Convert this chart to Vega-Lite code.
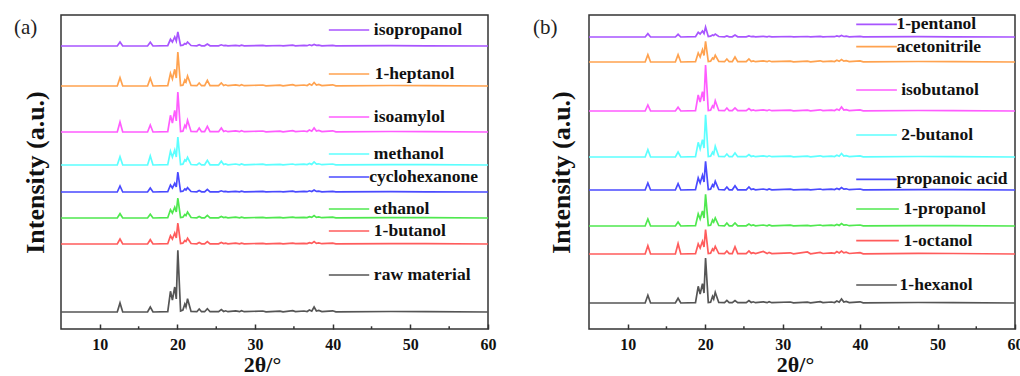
{
"$schema":"https://vega.github.io/schema/vega-lite/v6.json",
"padding":{"left":13,"top":14,"right":0,"bottom":0},
"spacing":35,
"config":{"view":{"stroke":"#333333","strokeWidth":1.5},
"axis":{"grid":false,"domain":false,"labelFont":"Liberation Serif","labelFontWeight":"bold","labelFontSize":16,"labelColor":"#111111","titleFont":"Liberation Serif","titleFontWeight":"bold","titleColor":"#111111","tickColor":"#333333","tickWidth":1.5}},
"datasets":{
"a":[
{"x":5,"raw material":17,"1-butanol":85,"ethanol":111,"cyclohexanone":137,"methanol":164,"isoamylol":197,"1-heptanol":243,"isopropanol":283},
{"x":12.25,"raw material":17,"1-butanol":85,"ethanol":111,"cyclohexanone":137,"methanol":164,"isoamylol":197,"1-heptanol":243,"isopropanol":283},
{"x":12.6,"raw material":26,"1-butanol":90,"ethanol":115.3,"cyclohexanone":143,"methanol":172.3,"isoamylol":207,"1-heptanol":251.3,"isopropanol":287},
{"x":12.95,"raw material":17,"1-butanol":85,"ethanol":111,"cyclohexanone":137,"methanol":164,"isoamylol":197,"1-heptanol":243,"isopropanol":283},
{"x":16.15,"raw material":17,"1-butanol":85,"ethanol":111,"cyclohexanone":137,"methanol":164,"isoamylol":197,"1-heptanol":243,"isopropanol":283},
{"x":16.5,"raw material":22,"1-butanol":89.3,"ethanol":114.7,"cyclohexanone":141,"methanol":173,"isoamylol":204,"1-heptanol":250.7,"isopropanol":286.7},
{"x":16.85,"raw material":17,"1-butanol":85,"ethanol":111,"cyclohexanone":137,"methanol":164,"isoamylol":197,"1-heptanol":243,"isopropanol":283},
{"x":18.75,"raw material":17.3,"1-butanol":85.3,"ethanol":111.3,"cyclohexanone":137.3,"methanol":164.3,"isoamylol":197.3,"1-heptanol":243.3,"isopropanol":283.3},
{"x":19.1,"raw material":37.7,"1-butanol":93.3,"ethanol":119.3,"cyclohexanone":144,"methanol":177.7,"isoamylol":213.7,"1-heptanol":255.7,"isopropanol":289.7},
{"x":19.35,"raw material":29,"1-butanol":90,"ethanol":116,"cyclohexanone":141,"methanol":172,"isoamylol":206,"1-heptanol":250,"isopropanol":287},
{"x":19.65,"raw material":42,"1-butanol":96,"ethanol":121.7,"cyclohexanone":145.7,"methanol":179,"isoamylol":218.7,"1-heptanol":259.7,"isopropanol":292},
{"x":19.85,"raw material":30,"1-butanol":91,"ethanol":117,"cyclohexanone":142,"methanol":172,"isoamylol":208,"1-heptanol":251,"isopropanol":288},
{"x":20.05,"raw material":78.7,"1-butanol":106,"ethanol":131,"cyclohexanone":157,"methanol":192,"isoamylol":237,"1-heptanol":277,"isopropanol":297},
{"x":20.4,"raw material":18,"1-butanol":85.5,"ethanol":111.5,"cyclohexanone":137.5,"methanol":164.5,"isoamylol":197.5,"1-heptanol":243.5,"isopropanol":283.5},
{"x":20.7,"raw material":19,"1-butanol":85.8,"ethanol":111.8,"cyclohexanone":137.8,"methanol":164.8,"isoamylol":197.8,"1-heptanol":243.8,"isopropanol":283.8},
{"x":20.95,"raw material":25,"1-butanol":88.5,"ethanol":114.5,"cyclohexanone":140,"methanol":169,"isoamylol":203.7,"1-heptanol":249,"isopropanol":285.5},
{"x":21.1,"raw material":22,"1-butanol":87.5,"ethanol":113.5,"cyclohexanone":139,"methanol":168,"isoamylol":201.5,"1-heptanol":247,"isopropanol":284.8},
{"x":21.3,"raw material":30.3,"1-butanol":90.7,"ethanol":117,"cyclohexanone":141.3,"methanol":171.7,"isoamylol":208.7,"1-heptanol":253,"isopropanol":287},
{"x":21.75,"raw material":17.5,"1-butanol":85.5,"ethanol":111.5,"cyclohexanone":137.5,"methanol":164.5,"isoamylol":197.5,"1-heptanol":243.5,"isopropanol":283.5},
{"x":22.5,"raw material":17.3,"1-butanol":85.2,"ethanol":111.2,"cyclohexanone":137.2,"methanol":164.2,"isoamylol":197.3,"1-heptanol":243.3,"isopropanol":283.2},
{"x":22.8,"raw material":20,"1-butanol":86.5,"ethanol":112.5,"cyclohexanone":138.5,"methanol":166,"isoamylol":201,"1-heptanol":246,"isopropanol":284.2},
{"x":23.1,"raw material":17.3,"1-butanol":85.2,"ethanol":111.2,"cyclohexanone":137.2,"methanol":164.2,"isoamylol":197.3,"1-heptanol":243.3,"isopropanol":283.2},
{"x":23.5,"raw material":17.3,"1-butanol":85.2,"ethanol":111.2,"cyclohexanone":137.2,"methanol":164.2,"isoamylol":197.3,"1-heptanol":243.3,"isopropanol":283.2},
{"x":23.85,"raw material":20.3,"1-butanol":87.5,"ethanol":113.7,"cyclohexanone":139.7,"methanol":168.7,"isoamylol":202.7,"1-heptanol":248.7,"isopropanol":285},
{"x":24.2,"raw material":17.3,"1-butanol":85.2,"ethanol":111.2,"cyclohexanone":137.2,"methanol":164.2,"isoamylol":197.3,"1-heptanol":243.3,"isopropanol":283.2},
{"x":25.3,"raw material":17.3,"1-butanol":85.2,"ethanol":111.2,"cyclohexanone":137.2,"methanol":164.2,"isoamylol":197.3,"1-heptanol":243.3,"isopropanol":283.2},
{"x":25.65,"raw material":19.5,"1-butanol":86.5,"ethanol":112.5,"cyclohexanone":138.2,"methanol":167.7,"isoamylol":201,"1-heptanol":246,"isopropanol":284.2},
{"x":25.95,"raw material":17.5,"1-butanol":85.4,"ethanol":111.4,"cyclohexanone":137.3,"methanol":164.4,"isoamylol":197.5,"1-heptanol":243.5,"isopropanol":283.3},
{"x":26.2,"raw material":18.2,"1-butanol":85.8,"ethanol":111.8,"cyclohexanone":137.7,"methanol":165,"isoamylol":198.2,"1-heptanol":244.2,"isopropanol":283.7},
{"x":26.5,"raw material":17.3,"1-butanol":85.2,"ethanol":111.2,"cyclohexanone":137.2,"methanol":164.2,"isoamylol":197.3,"1-heptanol":243.3,"isopropanol":283.2},
{"x":27.5,"raw material":18.2,"1-butanol":85.8,"ethanol":111.8,"cyclohexanone":137.7,"methanol":165,"isoamylol":198.2,"1-heptanol":244.2,"isopropanol":283.7},
{"x":28.0,"raw material":17.3,"1-butanol":85.2,"ethanol":111.2,"cyclohexanone":137.2,"methanol":164.2,"isoamylol":197.3,"1-heptanol":243.3,"isopropanol":283.2},
{"x":28.25,"raw material":18.3,"1-butanol":85.9,"ethanol":111.9,"cyclohexanone":137.8,"methanol":165,"isoamylol":198.3,"1-heptanol":244.3,"isopropanol":283.8},
{"x":28.6,"raw material":17.3,"1-butanol":85.2,"ethanol":111.2,"cyclohexanone":137.2,"methanol":164.2,"isoamylol":197.3,"1-heptanol":243.3,"isopropanol":283.2},
{"x":31.0,"raw material":18,"1-butanol":85.7,"ethanol":111.7,"cyclohexanone":137.6,"methanol":164.8,"isoamylol":198,"1-heptanol":244,"isopropanol":283.6},
{"x":31.4,"raw material":17.2,"1-butanol":85.1,"ethanol":111.1,"cyclohexanone":137.1,"methanol":164.2,"isoamylol":197.2,"1-heptanol":243.2,"isopropanol":283.1},
{"x":33.2,"raw material":17.9,"1-butanol":85.6,"ethanol":111.6,"cyclohexanone":137.5,"methanol":164.7,"isoamylol":197.9,"1-heptanol":243.9,"isopropanol":283.5},
{"x":33.6,"raw material":17.2,"1-butanol":85.1,"ethanol":111.1,"cyclohexanone":137.1,"methanol":164.2,"isoamylol":197.2,"1-heptanol":243.2,"isopropanol":283.1},
{"x":34.85,"raw material":18.3,"1-butanol":85.9,"ethanol":111.9,"cyclohexanone":137.8,"methanol":165,"isoamylol":198.3,"1-heptanol":244.3,"isopropanol":283.8},
{"x":35.2,"raw material":17.4,"1-butanol":85.3,"ethanol":111.3,"cyclohexanone":137.2,"methanol":164.3,"isoamylol":197.4,"1-heptanol":243.4,"isopropanol":283.2},
{"x":36.3,"raw material":18,"1-butanol":85.7,"ethanol":111.7,"cyclohexanone":137.6,"methanol":164.8,"isoamylol":198,"1-heptanol":244,"isopropanol":283.6},
{"x":36.7,"raw material":17.5,"1-butanol":85.4,"ethanol":111.4,"cyclohexanone":137.3,"methanol":164.4,"isoamylol":197.5,"1-heptanol":243.5,"isopropanol":283.3},
{"x":37.0,"raw material":19,"1-butanol":86.4,"ethanol":112.4,"cyclohexanone":138.2,"methanol":165.6,"isoamylol":199,"1-heptanol":245,"isopropanol":284.2},
{"x":37.3,"raw material":17.8,"1-butanol":85.6,"ethanol":111.6,"cyclohexanone":137.5,"methanol":164.6,"isoamylol":197.8,"1-heptanol":243.8,"isopropanol":283.5},
{"x":37.6,"raw material":22,"1-butanol":87.5,"ethanol":113.5,"cyclohexanone":139,"methanol":167,"isoamylol":201,"1-heptanol":246.5,"isopropanol":284.5},
{"x":37.9,"raw material":18,"1-butanol":85.7,"ethanol":111.7,"cyclohexanone":137.6,"methanol":164.8,"isoamylol":198,"1-heptanol":244,"isopropanol":283.6},
{"x":38.2,"raw material":18.5,"1-butanol":86.1,"ethanol":112.1,"cyclohexanone":137.9,"methanol":165.2,"isoamylol":198.5,"1-heptanol":244.5,"isopropanol":283.9},
{"x":38.6,"raw material":17.4,"1-butanol":85.3,"ethanol":111.3,"cyclohexanone":137.2,"methanol":164.3,"isoamylol":197.4,"1-heptanol":243.4,"isopropanol":283.2},
{"x":40.0,"raw material":18.2,"1-butanol":85.8,"ethanol":111.8,"cyclohexanone":137.7,"methanol":165,"isoamylol":198.2,"1-heptanol":244.2,"isopropanol":283.7},
{"x":40.4,"raw material":17.2,"1-butanol":85.1,"ethanol":111.1,"cyclohexanone":137.1,"methanol":164.2,"isoamylol":197.2,"1-heptanol":243.2,"isopropanol":283.1},
{"x":47.5,"raw material":17.5,"1-butanol":85.4,"ethanol":111.4,"cyclohexanone":137.3,"methanol":164.4,"isoamylol":197.5,"1-heptanol":243.5,"isopropanol":283.3},
{"x":52,"raw material":17.4,"1-butanol":85.3,"ethanol":111.3,"cyclohexanone":137.2,"methanol":164.3,"isoamylol":197.4,"1-heptanol":243.4,"isopropanol":283.2},
{"x":60,"raw material":17,"1-butanol":85,"ethanol":111,"cyclohexanone":137,"methanol":164,"isoamylol":197,"1-heptanol":243,"isopropanol":283}
],
"b":[
{"x":5,"1-hexanol":26,"1-octanol":75,"1-propanol":103,"propanoic acid":139,"2-butanol":172,"isobutanol":218,"acetonitrile":267,"1-pentanol":292},
{"x":12.25,"1-hexanol":26,"1-octanol":75,"1-propanol":103,"propanoic acid":139,"2-butanol":172,"isobutanol":218,"acetonitrile":267,"1-pentanol":292},
{"x":12.6,"1-hexanol":33.7,"1-octanol":83.3,"1-propanol":110,"propanoic acid":146,"2-butanol":179.3,"isobutanol":224,"acetonitrile":274.3,"1-pentanol":295.3},
{"x":12.95,"1-hexanol":26,"1-octanol":75,"1-propanol":103,"propanoic acid":139,"2-butanol":172,"isobutanol":218,"acetonitrile":267,"1-pentanol":292},
{"x":16.15,"1-hexanol":26,"1-octanol":75,"1-propanol":103,"propanoic acid":139,"2-butanol":172,"isobutanol":218,"acetonitrile":267,"1-pentanol":292},
{"x":16.5,"1-hexanol":30.7,"1-octanol":85.3,"1-propanol":107,"propanoic acid":145.3,"2-butanol":177,"isobutanol":221.7,"acetonitrile":274.3,"1-pentanol":294.7},
{"x":16.85,"1-hexanol":26,"1-octanol":75,"1-propanol":103,"propanoic acid":139,"2-butanol":172,"isobutanol":218,"acetonitrile":267,"1-pentanol":292},
{"x":18.75,"1-hexanol":26.3,"1-octanol":75.3,"1-propanol":103.3,"propanoic acid":139.3,"2-butanol":172.3,"isobutanol":218.3,"acetonitrile":267.3,"1-pentanol":292.3},
{"x":19.1,"1-hexanol":42.7,"1-octanol":85,"1-propanol":115,"propanoic acid":151,"2-butanol":186.7,"isobutanol":234,"acetonitrile":276,"1-pentanol":296.7},
{"x":19.35,"1-hexanol":35,"1-octanol":81,"1-propanol":110,"propanoic acid":146,"2-butanol":180,"isobutanol":227,"acetonitrile":272,"1-pentanol":295},
{"x":19.65,"1-hexanol":45.3,"1-octanol":87.7,"1-propanol":118,"propanoic acid":153.7,"2-butanol":189.3,"isobutanol":237.3,"acetonitrile":279.3,"1-pentanol":298},
{"x":19.85,"1-hexanol":36,"1-octanol":82,"1-propanol":111,"propanoic acid":147,"2-butanol":181,"isobutanol":228,"acetonitrile":273.5,"1-pentanol":295.5},
{"x":20.05,"1-hexanol":71,"1-octanol":99.3,"1-propanol":134.7,"propanoic acid":167.7,"2-butanol":214.3,"isobutanol":264,"acetonitrile":287.7,"1-pentanol":302},
{"x":20.4,"1-hexanol":26.5,"1-octanol":75.5,"1-propanol":103.5,"propanoic acid":139.5,"2-butanol":172.5,"isobutanol":218.5,"acetonitrile":267.5,"1-pentanol":292.5},
{"x":20.7,"1-hexanol":26.8,"1-octanol":75.8,"1-propanol":103.8,"propanoic acid":139.8,"2-butanol":172.8,"isobutanol":218.8,"acetonitrile":267.8,"1-pentanol":292.8},
{"x":20.95,"1-hexanol":32.7,"1-octanol":80,"1-propanol":109,"propanoic acid":144.3,"2-butanol":176.7,"isobutanol":223,"acetonitrile":271,"1-pentanol":294},
{"x":21.1,"1-hexanol":30,"1-octanol":78.5,"1-propanol":107,"propanoic acid":142.5,"2-butanol":175,"isobutanol":221.5,"acetonitrile":270,"1-pentanol":293.5},
{"x":21.3,"1-hexanol":36.7,"1-octanol":82.7,"1-propanol":111,"propanoic acid":147.7,"2-butanol":182.7,"isobutanol":228.3,"acetonitrile":273.7,"1-pentanol":295},
{"x":21.75,"1-hexanol":26.5,"1-octanol":75.5,"1-propanol":103.5,"propanoic acid":139.5,"2-butanol":172.5,"isobutanol":218.5,"acetonitrile":267.5,"1-pentanol":292.5},
{"x":22.5,"1-hexanol":26.3,"1-octanol":75.4,"1-propanol":103.2,"propanoic acid":139.2,"2-butanol":172.3,"isobutanol":218.3,"acetonitrile":267.3,"1-pentanol":292.2},
{"x":22.8,"1-hexanol":28.5,"1-octanol":78,"1-propanol":106,"propanoic acid":142,"2-butanol":175,"isobutanol":221,"acetonitrile":270,"1-pentanol":293},
{"x":23.1,"1-hexanol":26.3,"1-octanol":75.4,"1-propanol":103.2,"propanoic acid":139.2,"2-butanol":172.3,"isobutanol":218.3,"acetonitrile":267.3,"1-pentanol":292.2},
{"x":23.5,"1-hexanol":26.3,"1-octanol":75.4,"1-propanol":103.2,"propanoic acid":139.2,"2-butanol":172.3,"isobutanol":218.3,"acetonitrile":267.3,"1-pentanol":292.2},
{"x":23.85,"1-hexanol":28.5,"1-octanol":82.3,"1-propanol":106,"propanoic acid":143.3,"2-butanol":176,"isobutanol":221,"acetonitrile":272,"1-pentanol":294},
{"x":24.2,"1-hexanol":26.3,"1-octanol":75.4,"1-propanol":103.2,"propanoic acid":139.2,"2-butanol":172.3,"isobutanol":218.3,"acetonitrile":267.3,"1-pentanol":292.2},
{"x":25.3,"1-hexanol":26.3,"1-octanol":75.4,"1-propanol":103.2,"propanoic acid":139.2,"2-butanol":172.3,"isobutanol":218.3,"acetonitrile":267.3,"1-pentanol":292.2},
{"x":25.65,"1-hexanol":28.5,"1-octanol":78,"1-propanol":105,"propanoic acid":142,"2-butanol":174.5,"isobutanol":220.5,"acetonitrile":270,"1-pentanol":293},
{"x":25.95,"1-hexanol":26.5,"1-octanol":75.6,"1-propanol":103.4,"propanoic acid":139.4,"2-butanol":172.5,"isobutanol":218.5,"acetonitrile":267.5,"1-pentanol":292.3},
{"x":26.2,"1-hexanol":27.2,"1-octanol":76.4,"1-propanol":104,"propanoic acid":140,"2-butanol":173.1,"isobutanol":219.1,"acetonitrile":268.1,"1-pentanol":292.6},
{"x":26.5,"1-hexanol":26.3,"1-octanol":75.4,"1-propanol":103.2,"propanoic acid":139.2,"2-butanol":172.3,"isobutanol":218.3,"acetonitrile":267.3,"1-pentanol":292.2},
{"x":27.5,"1-hexanol":27.2,"1-octanol":77.5,"1-propanol":104,"propanoic acid":140,"2-butanol":173.1,"isobutanol":219.1,"acetonitrile":268.1,"1-pentanol":292.6},
{"x":28.0,"1-hexanol":26.3,"1-octanol":75.4,"1-propanol":103.2,"propanoic acid":139.2,"2-butanol":172.3,"isobutanol":218.3,"acetonitrile":267.3,"1-pentanol":292.2},
{"x":28.25,"1-hexanol":27.3,"1-octanol":76.6,"1-propanol":104,"propanoic acid":140,"2-butanol":173.2,"isobutanol":219.2,"acetonitrile":268.2,"1-pentanol":292.7},
{"x":28.6,"1-hexanol":26.3,"1-octanol":75.4,"1-propanol":103.2,"propanoic acid":139.2,"2-butanol":172.3,"isobutanol":218.3,"acetonitrile":267.3,"1-pentanol":292.2},
{"x":31.0,"1-hexanol":27,"1-octanol":76.2,"1-propanol":103.8,"propanoic acid":139.8,"2-butanol":172.9,"isobutanol":218.9,"acetonitrile":267.9,"1-pentanol":292.5},
{"x":31.4,"1-hexanol":26.2,"1-octanol":75.2,"1-propanol":103.2,"propanoic acid":139.2,"2-butanol":172.2,"isobutanol":218.2,"acetonitrile":267.2,"1-pentanol":292.1},
{"x":33.2,"1-hexanol":26.9,"1-octanol":77,"1-propanol":103.7,"propanoic acid":139.7,"2-butanol":172.8,"isobutanol":218.8,"acetonitrile":267.8,"1-pentanol":292.5},
{"x":33.6,"1-hexanol":26.2,"1-octanol":75.2,"1-propanol":103.2,"propanoic acid":139.2,"2-butanol":172.2,"isobutanol":218.2,"acetonitrile":267.2,"1-pentanol":292.1},
{"x":34.85,"1-hexanol":27.3,"1-octanol":76.6,"1-propanol":104,"propanoic acid":140,"2-butanol":173.2,"isobutanol":219.2,"acetonitrile":268.2,"1-pentanol":292.7},
{"x":35.2,"1-hexanol":26.4,"1-octanol":75.5,"1-propanol":103.3,"propanoic acid":139.3,"2-butanol":172.4,"isobutanol":218.4,"acetonitrile":267.4,"1-pentanol":292.2},
{"x":36.3,"1-hexanol":27,"1-octanol":76.2,"1-propanol":103.8,"propanoic acid":139.8,"2-butanol":172.9,"isobutanol":218.9,"acetonitrile":267.9,"1-pentanol":292.5},
{"x":36.7,"1-hexanol":26.5,"1-octanol":75.6,"1-propanol":103.4,"propanoic acid":139.4,"2-butanol":172.5,"isobutanol":218.5,"acetonitrile":267.5,"1-pentanol":292.3},
{"x":37.0,"1-hexanol":28,"1-octanol":77.4,"1-propanol":104.6,"propanoic acid":140.6,"2-butanol":173.8,"isobutanol":219.8,"acetonitrile":268.8,"1-pentanol":293},
{"x":37.3,"1-hexanol":26.8,"1-octanol":76,"1-propanol":103.6,"propanoic acid":139.6,"2-butanol":172.7,"isobutanol":218.7,"acetonitrile":267.7,"1-pentanol":292.4},
{"x":37.6,"1-hexanol":30,"1-octanol":78,"1-propanol":105.5,"propanoic acid":141.5,"2-butanol":175.5,"isobutanol":222,"acetonitrile":269.5,"1-pentanol":293.5},
{"x":37.9,"1-hexanol":27,"1-octanol":76.2,"1-propanol":103.8,"propanoic acid":139.8,"2-butanol":172.9,"isobutanol":218.9,"acetonitrile":267.9,"1-pentanol":292.5},
{"x":38.2,"1-hexanol":27.5,"1-octanol":76.8,"1-propanol":104.2,"propanoic acid":140.2,"2-butanol":173.4,"isobutanol":219.4,"acetonitrile":268.4,"1-pentanol":292.8},
{"x":38.6,"1-hexanol":26.4,"1-octanol":75.5,"1-propanol":103.3,"propanoic acid":139.3,"2-butanol":172.4,"isobutanol":218.4,"acetonitrile":267.4,"1-pentanol":292.2},
{"x":40.0,"1-hexanol":27.2,"1-octanol":76.4,"1-propanol":104,"propanoic acid":140,"2-butanol":173.1,"isobutanol":219.1,"acetonitrile":268.1,"1-pentanol":292.6},
{"x":40.4,"1-hexanol":26.2,"1-octanol":75.2,"1-propanol":103.2,"propanoic acid":139.2,"2-butanol":172.2,"isobutanol":218.2,"acetonitrile":267.2,"1-pentanol":292.1},
{"x":47.5,"1-hexanol":26.5,"1-octanol":75.6,"1-propanol":103.4,"propanoic acid":139.4,"2-butanol":172.5,"isobutanol":218.5,"acetonitrile":267.5,"1-pentanol":292.3},
{"x":52,"1-hexanol":26.4,"1-octanol":75.5,"1-propanol":103.3,"propanoic acid":139.3,"2-butanol":172.4,"isobutanol":218.4,"acetonitrile":267.4,"1-pentanol":292.2},
{"x":60,"1-hexanol":26,"1-octanol":75,"1-propanol":103,"propanoic acid":139,"2-butanol":172,"isobutanol":218,"acetonitrile":267,"1-pentanol":292}
],
"legA":[
{"sample":"isopropanol","lx":39.5,"lx2":44.7,"tx":45.3,"ly":299},
{"sample":"1-heptanol","lx":39.5,"lx2":44.7,"tx":45.4,"ly":255},
{"sample":"isoamylol","lx":39.5,"lx2":44.7,"tx":45.3,"ly":212},
{"sample":"methanol","lx":39.5,"lx2":44.7,"tx":45.3,"ly":175},
{"sample":"cyclohexanone","lx":39.5,"lx2":44.7,"tx":44.7,"ly":152},
{"sample":"ethanol","lx":39.5,"lx2":44.7,"tx":45.3,"ly":120},
{"sample":"1-butanol","lx":39.5,"lx2":44.7,"tx":45.3,"ly":98},
{"sample":"raw material","lx":39.5,"lx2":44.7,"tx":45.3,"ly":54}
],
"legB":[
{"sample":"1-pentanol","lx":39.5,"lx2":44.75,"tx":44.7,"ly":304.7},
{"sample":"acetonitrile","lx":39.5,"lx2":44.75,"tx":44.7,"ly":282.3},
{"sample":"isobutanol","lx":39.5,"lx2":44.75,"tx":45.3,"ly":239},
{"sample":"2-butanol","lx":39.5,"lx2":44.75,"tx":45.3,"ly":194},
{"sample":"propanoic acid","lx":39.5,"lx2":44.75,"tx":44.7,"ly":149.7},
{"sample":"1-propanol","lx":39.5,"lx2":45.0,"tx":45.6,"ly":120},
{"sample":"1-octanol","lx":39.5,"lx2":45.0,"tx":45.6,"ly":88.3},
{"sample":"1-hexanol","lx":39.5,"lx2":44.75,"tx":45.1,"ly":44}
],
"minor":[{"m":15},{"m":25},{"m":35},{"m":45},{"m":55}]
},
"hconcat":[
{
"width":427,"height":314,
"title":{"text":"(a)","anchor":"start","frame":"group","orient":"top","offset":0,"dx":-47,"dy":34,"baseline":"middle","font":"Liberation Serif","fontSize":21,"fontWeight":"normal","color":"#222222"},
"layer":[
{"data":{"name":"a"},
"transform":[{"fold":["raw material","1-butanol","ethanol","cyclohexanone","methanol","isoamylol","1-heptanol","isopropanol"],"as":["sample","intensity"]}],
"mark":{"type":"line","strokeWidth":1.7,"clip":true},
"encoding":{
"x":{"field":"x","type":"quantitative","scale":{"domain":[5,60],"nice":false},"axis":{"values":[10,20,30,40,50,60],"tickSize":-5,"labelPadding":12,"labelFlush":false,"title":"2θ/°","titleFontSize":22,"titleX":201,"titleY":25,"titleBaseline":"top"}},
"y":{"field":"intensity","type":"quantitative","scale":{"domain":[0,314],"nice":false,"zero":false},"axis":{"ticks":false,"labels":false,"title":"Intensity (a.u.)","titleFontSize":26,"titlePadding":13}},
"color":{"field":"sample","type":"nominal","legend":null,"scale":{"domain":["raw material","1-butanol","ethanol","cyclohexanone","methanol","isoamylol","1-heptanol","isopropanol"],"range":["#555555","#ff5c5c","#4fe84f","#4a4aff","#5cffff","#ff5cff","#ffa24f","#a855ff"]}}
}},
{"data":{"name":"minor"},"mark":{"type":"rule","color":"#333333","strokeWidth":1.5},
"encoding":{"x":{"field":"m","type":"quantitative"},"y":{"datum":0},"y2":{"datum":2.7}}},
{"data":{"name":"legA"},"mark":{"type":"rule","strokeWidth":1.7},
"encoding":{"x":{"field":"lx","type":"quantitative"},"x2":{"field":"lx2"},"y":{"field":"ly","type":"quantitative"},"color":{"field":"sample","type":"nominal","legend":null}}},
{"data":{"name":"legA"},"mark":{"type":"text","align":"left","baseline":"middle","font":"Liberation Serif","fontWeight":"bold","fontSize":17.5,"color":"#111111"},
"encoding":{"x":{"field":"tx","type":"quantitative"},"y":{"field":"ly","type":"quantitative"},"text":{"field":"sample"}}}
]
},
{
"width":426,"height":314,
"title":{"text":"(b)","anchor":"start","frame":"group","orient":"top","offset":0,"dx":-56,"dy":34,"baseline":"middle","font":"Liberation Serif","fontSize":21,"fontWeight":"normal","color":"#222222"},
"layer":[
{"data":{"name":"b"},
"transform":[{"fold":["1-hexanol","1-octanol","1-propanol","propanoic acid","2-butanol","isobutanol","acetonitrile","1-pentanol"],"as":["sample","intensity"]}],
"mark":{"type":"line","strokeWidth":1.7,"clip":true},
"encoding":{
"x":{"field":"x","type":"quantitative","scale":{"domain":[5,60],"nice":false},"axis":{"values":[10,20,30,40,50,60],"tickSize":-5,"labelPadding":12,"labelFlush":false,"title":"2θ/°","titleFontSize":22,"titleX":206,"titleY":25,"titleBaseline":"top"}},
"y":{"field":"intensity","type":"quantitative","scale":{"domain":[0,314],"nice":false,"zero":false},"axis":{"ticks":false,"labels":false,"title":"Intensity (a.u.)","titleFontSize":26,"titlePadding":15}},
"color":{"field":"sample","type":"nominal","legend":null,"scale":{"domain":["1-hexanol","1-octanol","1-propanol","propanoic acid","2-butanol","isobutanol","acetonitrile","1-pentanol"],"range":["#555555","#ff5c5c","#4fe84f","#4a4aff","#5cffff","#ff5cff","#ffa24f","#a855ff"]}}
}},
{"data":{"name":"minor"},"mark":{"type":"rule","color":"#333333","strokeWidth":1.5},
"encoding":{"x":{"field":"m","type":"quantitative"},"y":{"datum":0},"y2":{"datum":2.7}}},
{"data":{"name":"legB"},"mark":{"type":"rule","strokeWidth":1.7},
"encoding":{"x":{"field":"lx","type":"quantitative"},"x2":{"field":"lx2"},"y":{"field":"ly","type":"quantitative"},"color":{"field":"sample","type":"nominal","legend":null}}},
{"data":{"name":"legB"},"mark":{"type":"text","align":"left","baseline":"middle","font":"Liberation Serif","fontWeight":"bold","fontSize":17.5,"color":"#111111"},
"encoding":{"x":{"field":"tx","type":"quantitative"},"y":{"field":"ly","type":"quantitative"},"text":{"field":"sample"}}}
]
}
]
}
